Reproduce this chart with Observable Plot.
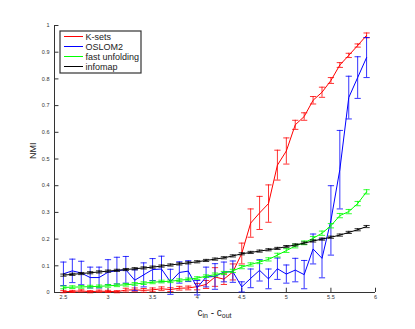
<!DOCTYPE html>
<html>
<head>
<meta charset="utf-8">
<script src="https://cdn.jsdelivr.net/npm/d3@7"></script>
<script src="https://cdn.jsdelivr.net/npm/@observablehq/plot@0.6"></script>
<style>
  html, body { margin: 0; padding: 0; background: #fff; }
  #chart { position: relative; width: 415px; height: 329px; }
</style>
</head>
<body>
<div id="chart"></div>
<script>
// ---- data ----
const xs = [2.5,2.6,2.7,2.8,2.9,3.0,3.1,3.2,3.3,3.4,3.5,3.6,3.7,3.8,3.9,4.0,4.1,4.2,4.3,4.4,4.5,4.6,4.7,4.8,4.9,5.0,5.1,5.2,5.3,5.4,5.5,5.6,5.7,5.8,5.9];

const seriesNames = ["K-sets", "OSLOM2", "fast unfolding", "infomap"];
const seriesColors = ["#ff0000", "#0000ff", "#00ff00", "#000000"];

const kSets = [0.003,0.004,0.006,0.003,0.005,0.004,0.003,0.009,0.010,0.008,0.010,0.014,0.011,0.016,0.017,0.022,0.030,0.058,0.050,0.077,0.146,0.260,0.298,0.333,0.477,0.530,0.628,0.659,0.720,0.750,0.794,0.852,0.888,0.925,0.963];
const kSetsErr = [0.004,0.004,0.004,0.004,0.004,0.004,0.004,0.007,0.007,0.007,0.007,0.007,0.007,0.007,0.007,0.012,0.015,0.035,0.020,0.030,0.039,0.053,0.062,0.070,0.056,0.049,0.017,0.014,0.014,0.019,0.011,0.009,0.008,0.006,0.009];

const oslom2 = [0.070,0.081,0.073,0.056,0.056,0.076,0.082,0.085,0.046,0.066,0.086,0.088,0.040,0.075,0.080,0.018,0.058,0.060,0.077,0.078,0.021,0.053,0.083,0.051,0.089,0.069,0.084,0.067,0.163,0.128,0.270,0.460,0.730,0.805,0.880];
const oslom2Err = [0.044,0.044,0.044,0.039,0.039,0.047,0.050,0.050,0.039,0.045,0.041,0.048,0.047,0.040,0.039,0.027,0.037,0.048,0.037,0.040,0.019,0.035,0.040,0.037,0.040,0.034,0.044,0.053,0.056,0.073,0.130,0.147,0.080,0.078,0.075];

const fastUnfolding = [0.019,0.020,0.021,0.022,0.023,0.025,0.027,0.029,0.032,0.035,0.038,0.041,0.042,0.046,0.049,0.054,0.061,0.067,0.073,0.081,0.095,0.105,0.114,0.124,0.140,0.157,0.174,0.186,0.203,0.222,0.250,0.288,0.303,0.333,0.377];
const fastUnfoldingErr = [0.005,0.005,0.005,0.005,0.005,0.005,0.005,0.005,0.005,0.005,0.005,0.005,0.005,0.005,0.005,0.005,0.005,0.006,0.006,0.006,0.006,0.006,0.006,0.006,0.007,0.007,0.007,0.007,0.007,0.008,0.008,0.008,0.008,0.008,0.008];

const infomap = [0.065,0.068,0.071,0.074,0.077,0.080,0.083,0.086,0.089,0.092,0.095,0.099,0.103,0.107,0.111,0.115,0.120,0.125,0.130,0.137,0.145,0.150,0.155,0.160,0.165,0.172,0.178,0.185,0.193,0.200,0.207,0.215,0.225,0.235,0.247];
const infomapErr = [0.004,0.004,0.004,0.004,0.004,0.004,0.004,0.004,0.004,0.004,0.004,0.004,0.004,0.004,0.004,0.004,0.004,0.004,0.004,0.004,0.004,0.004,0.004,0.004,0.004,0.004,0.004,0.004,0.004,0.004,0.004,0.004,0.004,0.004,0.004];

const xTicks = [2.5, 3, 3.5, 4, 4.5, 5, 5.5, 6];
const yTicks = [0, 0.1, 0.2, 0.3, 0.4, 0.5, 0.6, 0.7, 0.8, 0.9, 1];
const xTickLabels = ["2.5", "3", "3.5", "4", "4.5", "5", "5.5", "6"];
const yTickLabels = ["0", "0.1", "0.2", "0.3", "0.4", "0.5", "0.6", "0.7", "0.8", "0.9", "1"];

// ---- build tables ----
const values = [kSets, oslom2, fastUnfolding, infomap];
const errors = [kSetsErr, oslom2Err, fastUnfoldingErr, infomapErr];
const tables = seriesNames.map((name, s) =>
  xs.map((x, i) => ({series: name, x, y: values[s][i], e: errors[s][i]}))
);

const xDomain = [2.4, 6];
const capHalf = 0.035;     // half width of error-bar caps, in x units
const yTickLen = 0.05;     // inward tick length, x units
const xTickLen = 0.016;    // inward tick length, y units
const axisColor = "#333333";

const marks = [];
tables.forEach((rows, s) => {
  const c = seriesColors[s];
  marks.push(
    Plot.ruleX(rows, {x: "x", y1: d => d.y - d.e, y2: d => d.y + d.e, stroke: c, strokeWidth: 1, strokeOpacity: 0.8}),
    Plot.link(rows, {x1: d => d.x - capHalf, x2: d => d.x + capHalf, y1: d => d.y + d.e, y2: d => d.y + d.e, stroke: c, strokeWidth: 1, strokeOpacity: 0.8}),
    Plot.link(rows, {x1: d => d.x - capHalf, x2: d => d.x + capHalf, y1: d => d.y - d.e, y2: d => d.y - d.e, stroke: c, strokeWidth: 1, strokeOpacity: 0.8}),
    Plot.line(rows, {x: "x", y: "y", stroke: c, strokeWidth: 1})
  );
});

const plot = Plot.plot({
  width: 415,
  height: 329,
  marginLeft: 54,
  marginRight: 40,
  marginTop: 25,
  marginBottom: 37,
  style: {fontFamily: "'Liberation Sans', Arial, sans-serif", fontSize: "5.5px", color: "#333", background: "#fff"},
  x: {domain: xDomain},
  y: {domain: [0, 1]},
  marks: [
    Plot.axisX(xTicks, {tickSize: 0, tickPadding: 3, tickFormat: (d, i) => xTickLabels[i], label: null, fill: "#333"}),
    Plot.axisY(yTicks, {tickSize: 0, tickPadding: 5, tickFormat: (d, i) => yTickLabels[i], label: null, fill: "#333"}),
    Plot.ruleY(yTicks, {y: d => d, x1: xDomain[0], x2: xDomain[0] + yTickLen, stroke: axisColor}),
    Plot.ruleX(xTicks, {x: d => d, y1: 0, y2: xTickLen, stroke: axisColor}),
    Plot.ruleX([xDomain[0]], {y1: 0, y2: 1, stroke: axisColor}),
    Plot.ruleY([0], {x1: xDomain[0], x2: xDomain[1], stroke: axisColor}),
    ...marks,
    Plot.text(["NMI"], {frameAnchor: "left", rotate: -90, dx: -21, fontSize: 9, fill: "#222"})
  ]
});

const chart = document.getElementById("chart");
chart.appendChild(plot);

const svg = d3.select(plot);
const font = "'Liberation Sans', Arial, sans-serif";

// ---- x label with subscripts ----
const lbl = svg.append("text")
  .attr("x", 214.5).attr("y", 316)
  .attr("text-anchor", "middle")
  .attr("font-size", 10)
  .attr("fill", "#222")
  .attr("font-family", font);
lbl.append("tspan").text("c");
lbl.append("tspan").attr("font-size", 7).attr("dy", 2).text("in");
lbl.append("tspan").attr("dy", -2).text(" - c");
lbl.append("tspan").attr("font-size", 7).attr("dy", 2).text("out");

// ---- legend (inside the SVG) ----
const lg = svg.append("g").attr("font-family", font).attr("text-anchor", "start");
lg.append("rect")
  .attr("x", 60).attr("y", 31).attr("width", 81).attr("height", 42)
  .attr("fill", "#ffffff")
  .attr("stroke", "#333333")
  .attr("stroke-width", 1.2);
seriesNames.forEach((name, i) => {
  const yy = 36.5 + i * 10;
  lg.append("line").attr("x1", 64).attr("x2", 83).attr("y1", yy).attr("y2", yy)
    .style("stroke", seriesColors[i]).style("stroke-width", "1px");
  lg.append("text").attr("x", 85.5).attr("y", yy + 3.2)
    .attr("font-size", 9).style("fill", "#222").text(name);
});
</script>
</body>
</html>
